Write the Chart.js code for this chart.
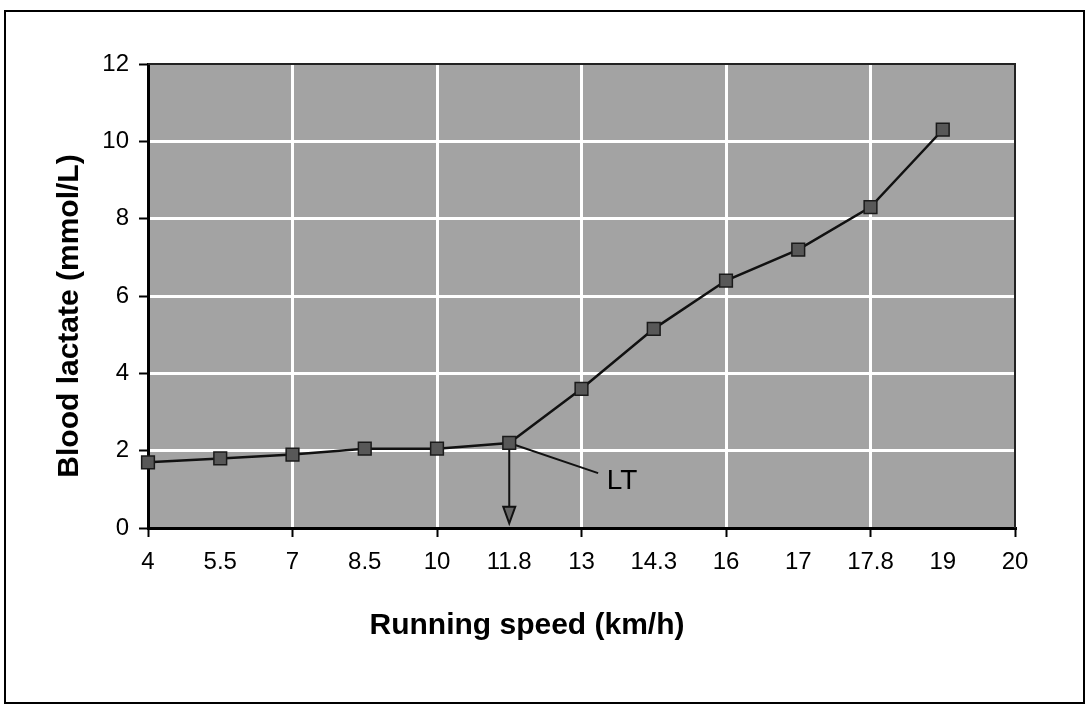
<!DOCTYPE html>
<html>
<head>
<meta charset="utf-8">
<script src="https://cdn.jsdelivr.net/npm/chart.js@4/dist/chart.umd.min.js"></script>
<style>
    body { margin: 0; background: #fff; }
    #wrap { position: relative; width: 1091px; height: 709px; }
    #frame { position: absolute; left: 4px; top: 10px; width: 1081px; height: 694px; border: 2px solid #000; box-sizing: border-box; }
    #chart { position: absolute; left: 0; top: 0; }
</style>
</head>
<body>
<div id="wrap">
    <div id="frame"></div>
    <canvas id="chart" width="1091" height="709"></canvas>
</div>
<script>
// Data
var speeds = ['4', '5.5', '7', '8.5', '10', '11.8', '13', '14.3', '16', '17', '17.8', '19', '20'];
var lactate = [1.7, 1.8, 1.9, 2.05, 2.05, 2.2, 3.6, 5.15, 6.4, 7.2, 8.3, 10.3];
var yMin = 0, yMax = 12, yStep = 2;

// LT annotation (in axis units: category index / mmol/L)
var ltIndex = 5;
var ltLineEnd = { x: 6.23, y: 1.42 };
var ltText = { x: 6.35, y: 1.22, label: 'LT' };
var arrowTip = 0.12;

var font = 'Liberation Sans, Arial, sans-serif';

// Grey plot background and frame
var plotBackground = {
    id: 'plotBackground',
    beforeDraw: function (chart) {
        var a = chart.chartArea, ctx = chart.ctx;
        ctx.save();
        ctx.fillStyle = '#a3a3a3';
        ctx.fillRect(a.left, a.top, a.right - a.left, a.bottom - a.top);
        ctx.restore();
    },
    afterDraw: function (chart) {
        var a = chart.chartArea, ctx = chart.ctx;
        ctx.save();
        ctx.strokeStyle = '#222';
        ctx.lineWidth = 2;
        ctx.beginPath();
        ctx.moveTo(a.left, a.top);
        ctx.lineTo(a.right, a.top);
        ctx.lineTo(a.right, a.bottom);
        ctx.stroke();

        // axis titles
        ctx.fillStyle = '#000';
        ctx.font = 'bold 30px ' + font;
        ctx.textAlign = 'center';
        ctx.textBaseline = 'middle';
        ctx.fillText('Running speed (km/h)', 527, 626);
        ctx.translate(70, 316);
        ctx.rotate(-Math.PI / 2);
        ctx.fillText('Blood lactate (mmol/L)', 0, 0);
        ctx.restore();
    }
};

// LT pointer line, label and the arrow down to the x axis
var ltAnnotation = {
    id: 'ltAnnotation',
    beforeDatasetsDraw: function (chart) {
        var x = chart.scales.x, y = chart.scales.y, ctx = chart.ctx;
        var px = x.getPixelForValue(ltIndex);
        var py = y.getPixelForValue(lactate[ltIndex]);
        ctx.save();
        ctx.strokeStyle = '#111';
        ctx.lineWidth = 2;
        ctx.beginPath();
        ctx.moveTo(px, py);
        ctx.lineTo(x.getPixelForValue(ltLineEnd.x), y.getPixelForValue(ltLineEnd.y));
        ctx.moveTo(px, py);
        ctx.lineTo(px, y.getPixelForValue(0.5));
        ctx.stroke();

        var headTop = y.getPixelForValue(0.55);
        var tip = y.getPixelForValue(arrowTip);
        ctx.beginPath();
        ctx.moveTo(px - 6, headTop);
        ctx.lineTo(px + 6, headTop);
        ctx.lineTo(px, tip);
        ctx.closePath();
        ctx.fillStyle = '#666';
        ctx.fill();
        ctx.stroke();

        ctx.fillStyle = '#000';
        ctx.font = '28px ' + font;
        ctx.textAlign = 'left';
        ctx.textBaseline = 'middle';
        ctx.fillText(ltText.label, x.getPixelForValue(ltText.x), y.getPixelForValue(ltText.y));
        ctx.restore();
    }
};

var ctx = document.getElementById('chart').getContext('2d');
var lactateChart = new Chart(ctx, {
    type: 'line',
    data: {
        labels: speeds,
        datasets: [{
            data: lactate,
            borderColor: '#111',
            borderWidth: 2.5,
            tension: 0,
            pointStyle: 'rect',
            pointRadius: 9,
            pointBackgroundColor: '#585858',
            pointBorderColor: '#1a1a1a',
            pointBorderWidth: 1.5
        }]
    },
    options: {
        responsive: false,
        animation: false,
        layout: { padding: { left: 0, top: 64, right: 76, bottom: 0 } },
        plugins: {
            legend: { display: false },
            tooltip: { enabled: false }
        },
        scales: {
            x: {
                type: 'category',
                offset: false,
                afterFit: function (scale) { scale.height = 181; },
                border: { color: '#000', width: 3 },
                grid: {
                    color: function (c) {
                        return (c.index > 0 && c.index < 12 && c.index % 2 === 0) ? '#fff' : 'rgba(0,0,0,0)';
                    },
                    lineWidth: 3,
                    tickColor: function (c) {
                        return c.index % 2 === 0 ? '#000' : 'rgba(0,0,0,0)';
                    },
                    tickWidth: 2,
                    tickLength: 9
                },
                ticks: {
                    color: '#000',
                    font: { family: font, size: 24 },
                    padding: 11,
                    maxRotation: 0,
                    autoSkip: false
                }
            },
            y: {
                min: yMin,
                max: yMax,
                afterFit: function (scale) { scale.width = 148; },
                border: { color: '#000', width: 3 },
                grid: {
                    color: function (c) {
                        return (c.tick.value > yMin && c.tick.value < yMax) ? '#fff' : 'rgba(0,0,0,0)';
                    },
                    lineWidth: 3,
                    tickColor: '#000',
                    tickWidth: 2,
                    tickLength: 9
                },
                ticks: {
                    stepSize: yStep,
                    color: '#000',
                    font: { family: font, size: 24 },
                    padding: 10
                }
            }
        }
    },
    plugins: [plotBackground, ltAnnotation]
});
</script>
</body>
</html>
